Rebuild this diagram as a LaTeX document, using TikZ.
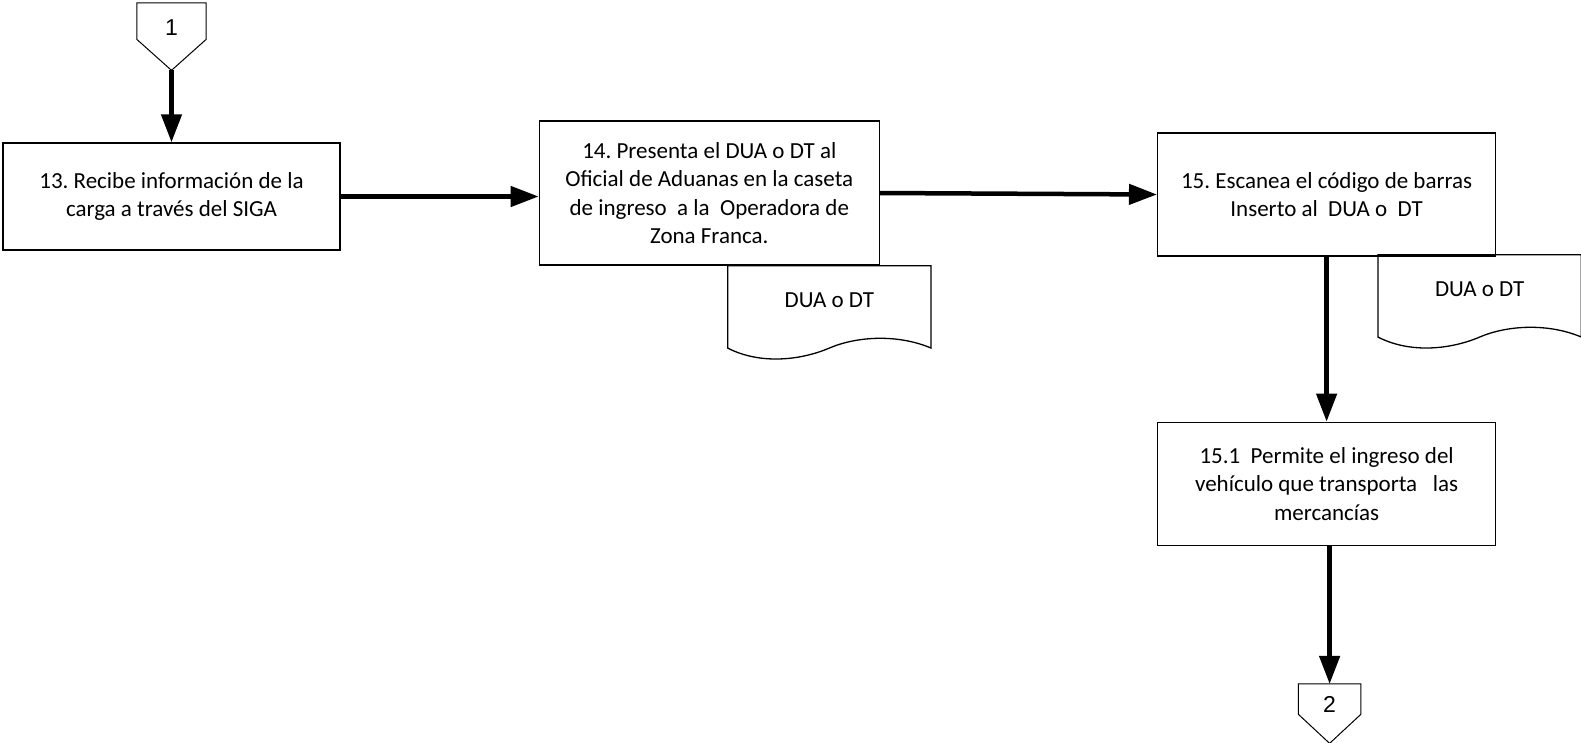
\documentclass[tikz,border=0pt]{standalone}
\usepackage{fontspec}
\setmainfont{Carlito}
\newfontfamily\connfont{Liberation Sans}
\frenchspacing
\usetikzlibrary{arrows.meta, positioning}

\begin{document}
\begin{tikzpicture}[
  x=1pt, y=-1pt, >={Triangle[length=28pt, width=20pt]},
  box/.style={draw, line width=1.3pt, align=center, inner sep=0pt, font=\fontsize{23}{28.5}\selectfont},
  doc/.style={inner sep=0pt, minimum width=203pt, text height=42pt, text depth=40pt, font=\fontsize{23}{28.5}\selectfont},
  conn/.style={inner sep=0pt, font=\connfont\fontsize{23}{28}\selectfont},
  flow/.style={->, line width=4.5pt},
  edge/.style={line width=1.3pt}
]
\useasboundingbox (0,0) rectangle (1581,742);

\node[box, minimum width=337pt, minimum height=107pt] (b13) at (171.5,196.5)
  {13. Recibe información de la\\carga a través del SIGA};
\node[box, minimum width=340pt, minimum height=144pt, right=198pt of b13, yshift=3.5pt] (b14)
  {14. Presenta el DUA o DT al\\Oficial de Aduanas en la caseta\\de ingreso\ \ a la\ \ Operadora de\\Zona Franca.};
\node[box, minimum width=338pt, minimum height=123pt, right=277pt of b14, yshift=-1.5pt] (b15)
  {15. Escanea el código de barras\\Inserto al\ \ DUA o\ \ DT};
\node[box, minimum width=338pt, minimum height=123pt, below=165pt of b15] (b151)
  {15.1\ \ Permite el ingreso del\\vehículo que transporta\ \ \ las\\mercancías};

% documentos
\node[doc, anchor=north west] (d14) at ([xshift=189pt]b14.south west) {DUA o DT};
\node[doc, anchor=north west] (d15) at ([xshift=221pt, yshift=2pt]b15.south west) {DUA o DT};
\foreach \d in {d14, d15}
  \draw[edge] (\d.south west) -- (\d.north west) -- (\d.north east) -- (\d.south east)
    .. controls +(-33,-14) and +(28,-12) .. (\d.south)
    .. controls +(-28,12) and +(33,17) .. (\d.south west) -- cycle;

% conectores de pagina
\node[conn, minimum width=69pt, text height=32pt, text depth=4pt, above=103pt of b13] (c1) {1};
\coordinate[below=31pt of c1] (c1tip);
\draw[edge, line width=1pt] (c1.north west) -- (c1.north east) -- (c1.south east) -- (c1tip) -- (c1.south west) -- cycle;
\node[conn, minimum width=62pt, text height=28pt, text depth=2pt, below=138pt of b151, xshift=3pt] (c2) {2};
\coordinate[below=29pt of c2] (c2tip);
\draw[edge, line width=1pt] (c2.north west) -- (c2.north east) -- (c2.south east) -- (c2tip) -- (c2.south west) -- cycle;

\draw[flow] (c1tip) -- (b13);
\draw[flow] (b13.east) -- (b13.east -| b14.west);
\draw[flow] (b14.east) -- (b15.west);
\draw[flow] (b15) -- (b151);
\draw[flow] (c2.north |- b151.south) -- (c2.north);
\end{tikzpicture}
\end{document}
